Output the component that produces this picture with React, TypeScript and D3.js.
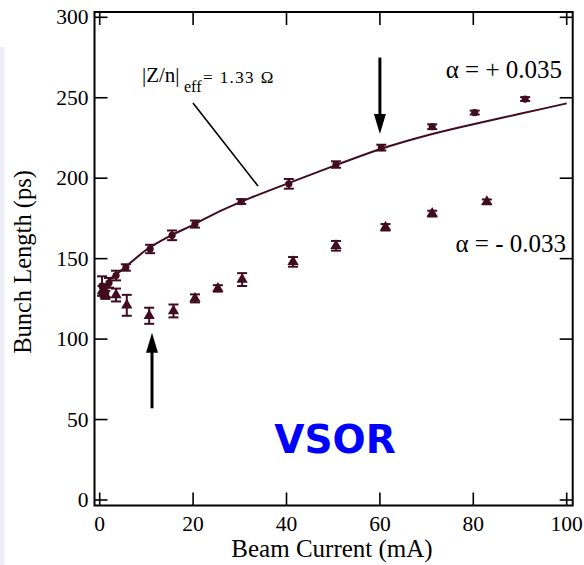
import React from "react";
import * as d3 from "d3";

// ---- data ----
const xTicks = [0, 20, 40, 60, 80, 100];
const yTicks = [0, 50, 100, 150, 200, 250, 300];

// alpha = +0.035 (circles)
const posCurrent = [0.5, 0.9, 1.3, 2.0, 3.5, 5.6, 10.8, 15.5, 20.4, 30.3, 40.5, 50.6, 60.3, 71.2, 80.3, 91.1];
const posLength = [133, 131, 129, 135, 139.5, 144.5, 156, 164.5, 171.5, 185.5, 196.5, 208.5, 219, 232, 240.8, 249.2];
const posErr = [6, 3, 3, 3, 3, 2, 2.6, 3, 2.2, 1.5, 3, 2, 1.8, 1.5, 1.2, 1.2];

// alpha = -0.033 (triangles)
const negCurrent = [0.6, 1.2, 3.5, 5.8, 10.6, 15.8, 20.4, 25.3, 30.5, 41.4, 50.6, 61.2, 71.2, 82.9];
const negLength = [130, 127.5, 127.4, 121, 114.5, 117.5, 125.3, 131.5, 137, 148, 158, 169.5, 178, 185.3];
const negErr = [3, 2.5, 4, 6.5, 5, 4, 2.5, 2, 4, 3, 3, 2, 1.8, 1.5];

// fitted curve |Z/n|eff = 1.33 ohm
const fitCurrent = [0.5, 2, 5, 10, 15, 20, 25, 30, 40, 50, 60, 70, 80, 90, 100];
const fitLength = [131, 136.5, 143.5, 155.5, 164, 171, 178.5, 185, 196.5, 207.5, 218, 226.5, 233.5, 240, 246.5];

// annotation arrows (data coordinates)
const arrowDown = { x: 60, from: 275, to: 227.5 };
const arrowUp = { x: 11.2, from: 57, to: 104 };

const W = 584;
const H = 565;
const COL = "#420c1f";
const SERIF = "Liberation Serif, Tinos, Times New Roman, DejaVu Serif, serif";

export default function App() {
  const x = d3.scaleLinear().domain([0, 100]).range([99.7, 566.7]);
  const y = d3.scaleLinear().domain([0, 300]).range([500, 17.3]);

  const fL = x(0) - 5.2;
  const fR = x(100) + 6;
  const fT = y(300) - 5.3;
  const fB = y(0) + 5.5;
  const tl = 13;

  const line = d3
    .line<number>()
    .x((_, i) => x(fitCurrent[i]))
    .y((d) => y(d))
    .curve(d3.curveMonotoneX);

  const cap = 5;
  const errBar = (cx: number, v: number, e: number, key: string) => {
    const px = x(cx);
    const y1 = y(v + e);
    const y2 = y(v - e);
    return (
      <g key={key} stroke={COL} strokeWidth={2}>
        <line x1={px} x2={px} y1={y1} y2={y2} />
        <line x1={px - cap} x2={px + cap} y1={y1} y2={y1} />
        <line x1={px - cap} x2={px + cap} y1={y2} y2={y2} />
      </g>
    );
  };

  const tri = d3.symbol().type(d3.symbolTriangle).size(55)();

  const arrow = (a: { x: number; from: number; to: number }, key: string) => {
    const px = x(a.x);
    const yf = y(a.from);
    const yt = y(a.to);
    const dir = yt > yf ? 1 : -1;
    const headLen = 20;
    const yb = yt - dir * headLen;
    return (
      <g key={key}>
        <line x1={px} x2={px} y1={yf} y2={yb + dir * 2} stroke="#000" strokeWidth={3} />
        <path d={`M${px - 6},${yb} L${px + 6},${yb} L${px},${yt} Z`} fill="#000" />
      </g>
    );
  };

  const serif = { fontFamily: SERIF };

  return (
    <svg
      width={W}
      height={H}
      style={{ position: "absolute", left: 0, top: 0, background: "#fff" }}
    >
      <rect x={0} y={0} width={W} height={H} fill="#fff" />
      <rect x={0} y={47} width={4.5} height={H - 47} fill="#eeeef6" />

      {/* frame */}
      <rect x={fL} y={fT} width={fR - fL} height={fB - fT} fill="none" stroke="#000" strokeWidth={2} />

      {/* ticks */}
      {yTicks.map((t) => (
        <g key={"yt" + t} stroke="#000" strokeWidth={1.6}>
          <line x1={fL} x2={fL + tl} y1={y(t)} y2={y(t)} />
          <line x1={fR} x2={fR - tl} y1={y(t)} y2={y(t)} />
        </g>
      ))}
      {xTicks.map((t) => (
        <g key={"xt" + t} stroke="#000" strokeWidth={1.6}>
          <line x1={x(t)} x2={x(t)} y1={fB} y2={fB - tl} />
          <line x1={x(t)} x2={x(t)} y1={fT} y2={fT + tl} />
        </g>
      ))}

      {/* tick labels */}
      {yTicks.map((t) => (
        <text
          key={"yl" + t}
          x={fL - 6}
          y={y(t) + 7}
          textAnchor="end"
          style={serif}
          fontSize={21.5}
          fill="#000"
        >
          {t}
        </text>
      ))}
      {xTicks.map((t) => (
        <text
          key={"xl" + t}
          x={x(t)}
          y={531}
          textAnchor="middle"
          style={serif}
          fontSize={21.5}
          fill="#000"
        >
          {t}
        </text>
      ))}

      {/* axis titles */}
      <text x={332} y={557} textAnchor="middle" style={serif} fontSize={25} fill="#000">
        Beam Current (mA)
      </text>
      <text
        transform={`translate(31,262) rotate(-90)`}
        textAnchor="middle"
        style={serif}
        fontSize={24.5}
        fill="#000"
      >
        Bunch Length (ps)
      </text>

      {/* fitted line */}
      <path d={line(fitLength) || ""} fill="none" stroke={COL} strokeWidth={2} />

      {/* error bars */}
      {negCurrent.map((c, i) => errBar(c, negLength[i], negErr[i], "ne" + i))}
      {posCurrent.map((c, i) => errBar(c, posLength[i], posErr[i], "pe" + i))}

      {/* markers */}
      {negCurrent.map((c, i) => (
        <path key={"nm" + i} d={tri || ""} transform={`translate(${x(c)},${y(negLength[i])})`} fill={COL} />
      ))}
      {posCurrent.map((c, i) => (
        <circle key={"pm" + i} cx={x(c)} cy={y(posLength[i])} r={3.6} fill={COL} />
      ))}

      {/* arrows */}
      {arrow(arrowDown, "ad")}
      {arrow(arrowUp, "au")}

      {/* annotation leader */}
      <line x1={193} y1={103} x2={258} y2={186} stroke="#000" strokeWidth={1.6} />
      <text x={142} y={82} style={serif} fontSize={21} fill="#000">
        |Z/n|
      </text>
      <text x={184} y={92} style={serif} fontSize={16} fill="#000">
        eff
      </text>
      <text x={203} y={83} style={{ ...serif, letterSpacing: "1.4px" }} fontSize={17} fill="#000">
        = 1.33 Ω
      </text>

      <text x={562} y={78} textAnchor="end" style={serif} fontSize={25} fill="#000">
        α = + 0.035
      </text>
      <text x={566} y={252} textAnchor="end" style={serif} fontSize={25} fill="#000">
        α = - 0.033
      </text>

      <text
        x={335}
        y={453}
        textAnchor="middle"
        fontFamily="DejaVu Sans, sans-serif"
        fontWeight="bold"
        fontSize={39}
        fill="#0000ff"
      >
        VSOR
      </text>
    </svg>
  );
}
